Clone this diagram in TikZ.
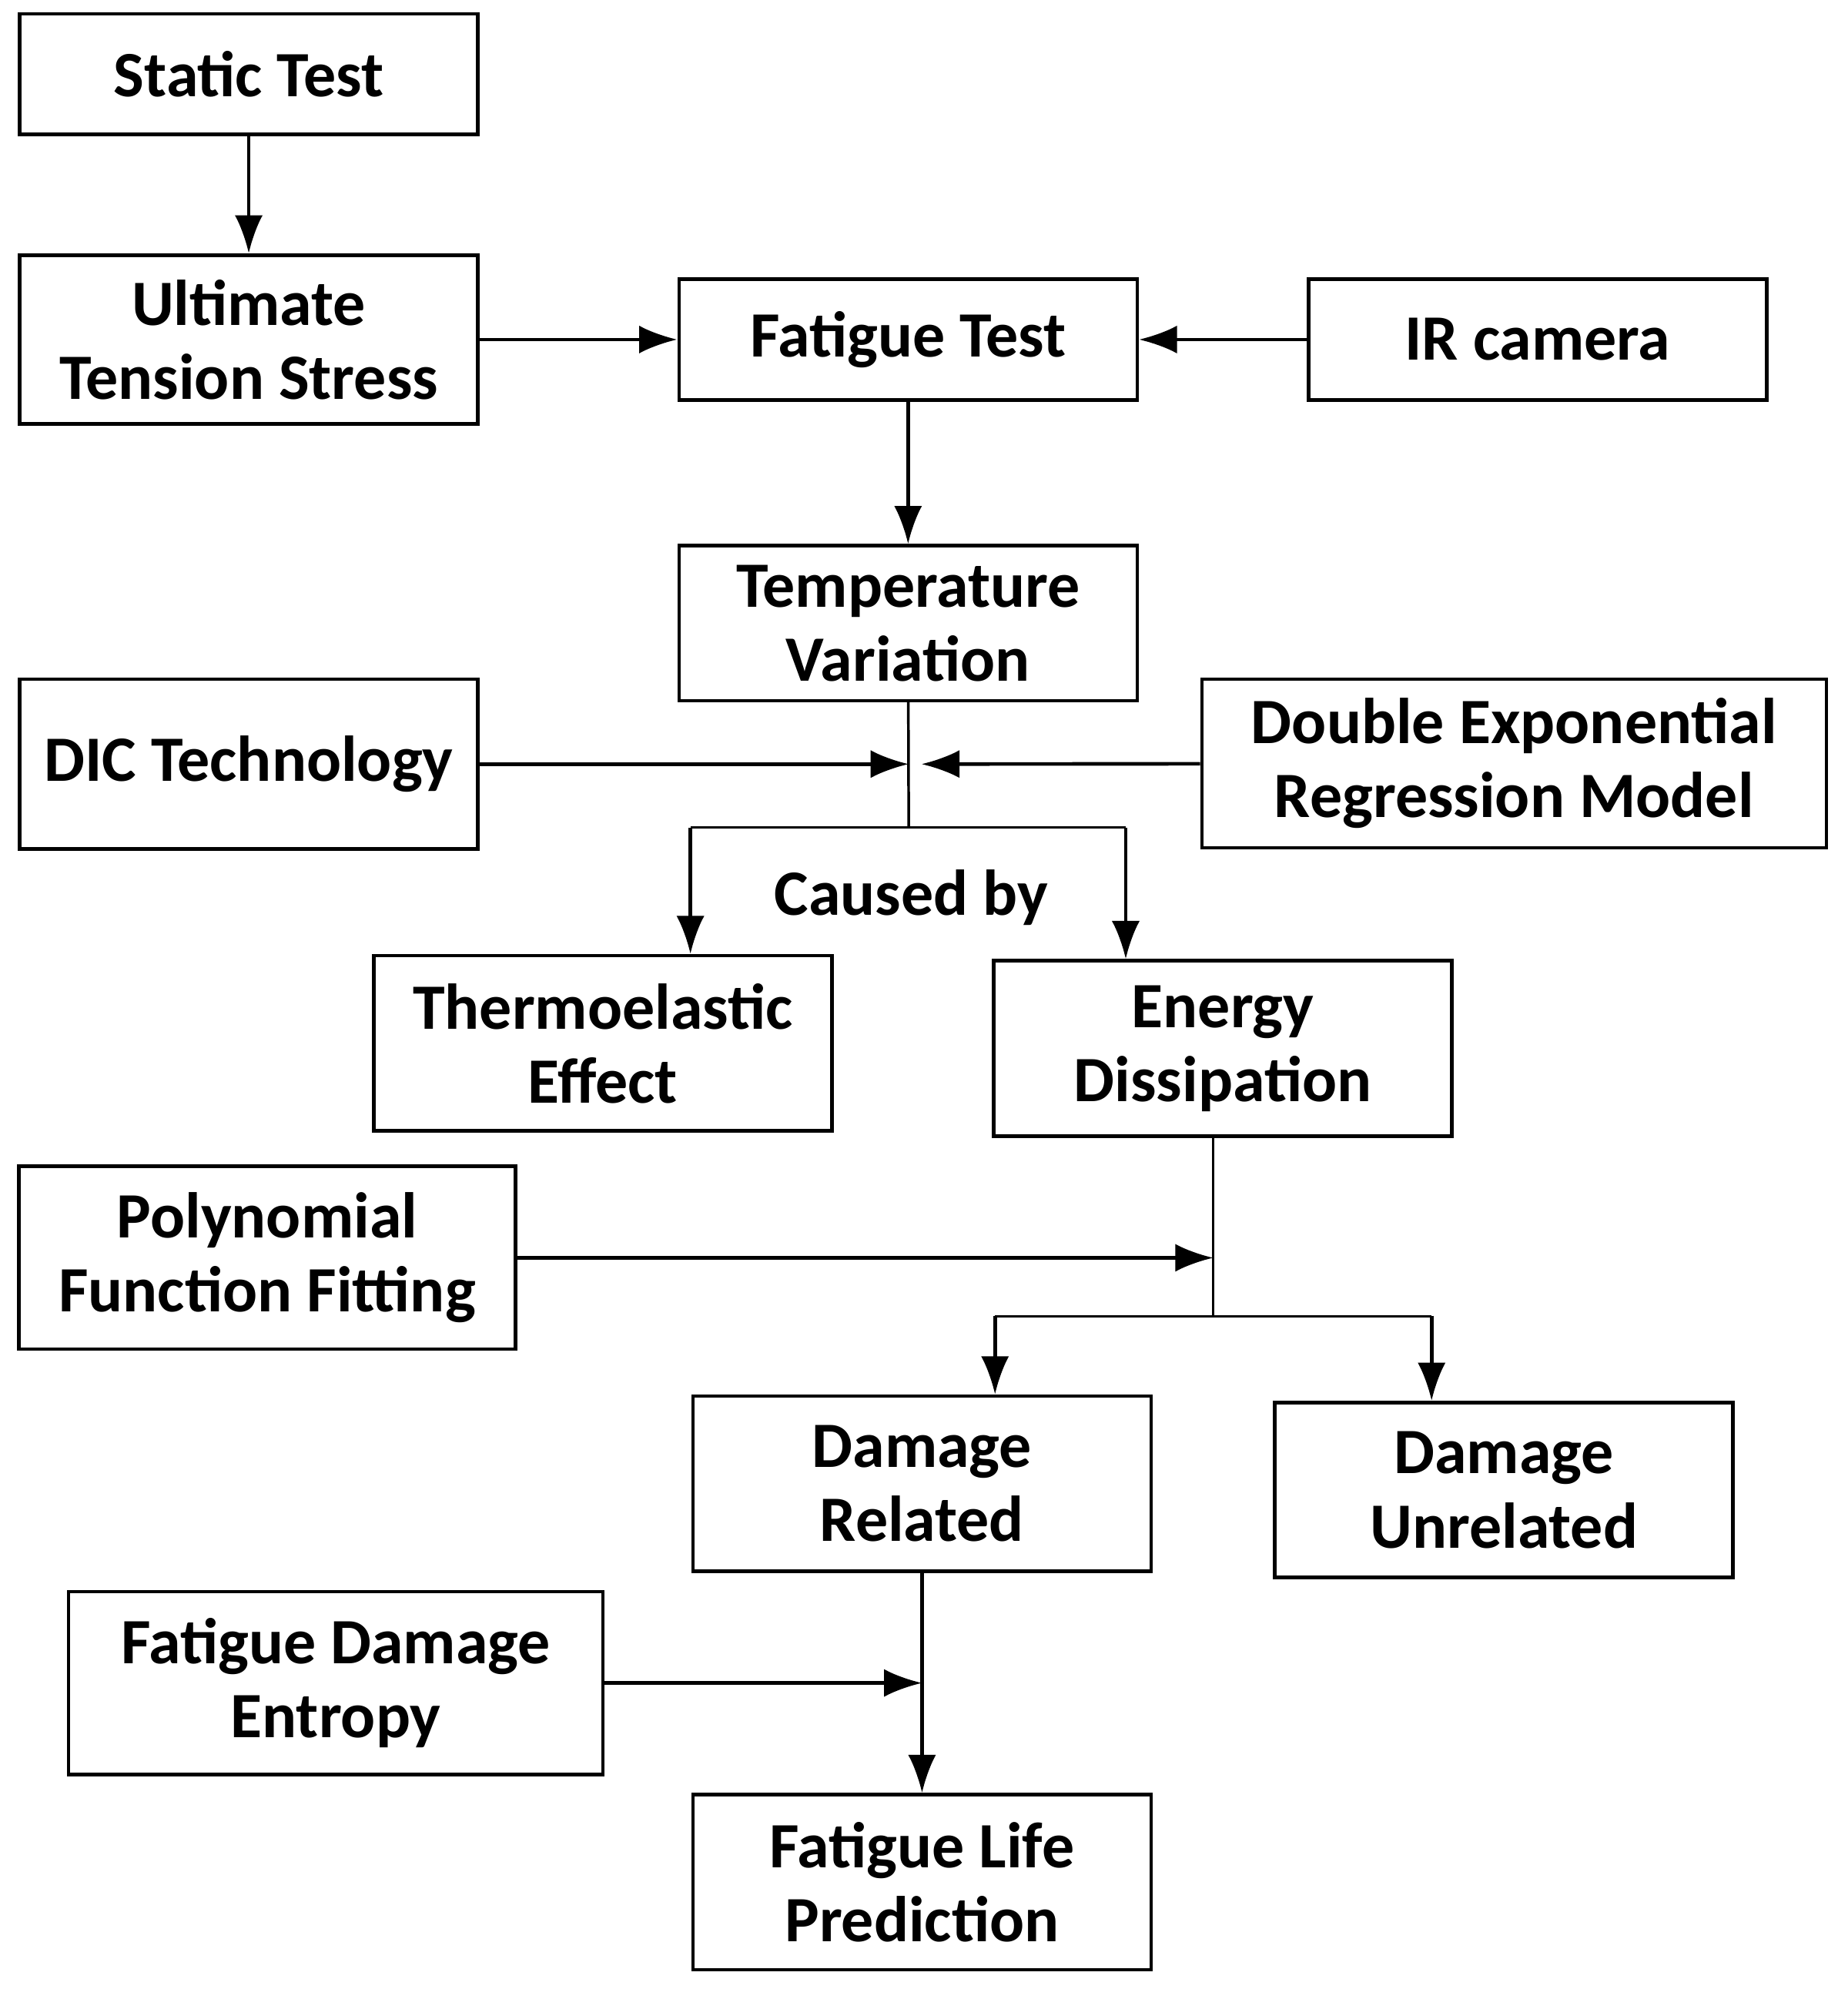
\documentclass[tikz,border=0pt]{standalone}
\usepackage{fontspec}
\setmainfont{Carlito}
\usetikzlibrary{arrows.meta, positioning}
\tikzset{
  box/.style={rectangle, draw, thick, align=center, minimum width=3.61cm,
    minimum height=1.37cm, inner sep=1mm,
    font=\fontsize{14.5}{16.6}\selectfont\bfseries},
  line/.style={-{Latex[length=3mm,width=2.2mm]}, thick},
  thin line/.style={semithick}
}
\begin{document}
\begin{tikzpicture}
\useasboundingbox (0,0) rectangle (14.56,-15.75);

% ---- boxes ----
\node[box, minimum height=0.95cm] (static) at (1.96,-0.585) {Static Test};
\node[box, minimum height=1.33cm] (uts) at (1.96,-2.675) {Ultimate\\Tension Stress};
\node[box, minimum height=0.95cm] (fatigue) at (7.155,-2.675) {Fatigue Test};
\node[box, minimum height=0.95cm] (ir) at (12.115,-2.675) {IR camera};
\node[box, minimum height=1.22cm] (temp) at (7.155,-4.91) {Temperature\\Variation};
\node[box, minimum height=1.34cm] (dic) at (1.96,-6.02) {DIC Technology};
\node[box, minimum width=4.92cm, minimum height=1.33cm] (dexp) at (11.93,-6.015) {Double Exponential\\Regression Model};
\node[box, minimum height=1.38cm] (thermo) at (4.75,-8.22) {Thermoelastic\\Effect};
\node[box, minimum height=1.38cm] (energy) at (9.635,-8.26) {Energy\\Dissipation};
\node[box, minimum width=3.91cm, minimum height=1.44cm] (poly) at (2.105,-9.91) {Polynomial\\Function Fitting};
\node[box, minimum height=1.38cm] (drel) at (7.265,-11.69) {Damage\\Related};
\node[box, minimum height=1.38cm] (dunrel) at (11.85,-11.74) {Damage\\Unrelated};
\node[box, minimum width=4.21cm, minimum height=1.44cm] (entropy) at (2.645,-13.26) {Fatigue Damage\\Entropy};
\node[box, minimum height=1.38cm] (life) at (7.265,-14.83) {Fatigue Life\\Prediction};
\node[font=\fontsize{14.5}{16.6}\selectfont\bfseries] (cause) at (7.18,-7.07) {Caused by};

% ---- junctions ----
\coordinate (j1) at (7.16,-6.02);
\coordinate (s1) at (7.16,-6.52);
\coordinate (s1l) at (5.44,-6.52);
\coordinate (s1r) at (8.87,-6.52);
\coordinate (j2) at (9.56,-9.91);
\coordinate (s2) at (9.56,-10.37);
\coordinate (s2l) at (7.84,-10.37);
\coordinate (s2r) at (11.28,-10.37);
\coordinate (j3) at (7.265,-13.26);

% ---- connectors ----
\draw[line] (static) -- (uts);
\draw[line] (uts) -- (fatigue);
\draw[line] (ir) -- (fatigue);
\draw[line] (fatigue) -- (temp);
\draw[thin line] (temp) -- (s1);
\draw[line] (dic) -- (j1);
\draw[line] (dexp) -- ([xshift=1mm]j1);
\draw[thin line] (s1l) -- (s1r);
\draw[line] (s1l) -- (s1l |- thermo.north);
\draw[line] (s1r) -- (s1r |- energy.north);
\draw[thin line] (energy.south -| j2) -- (s2);
\draw[line] (poly) -- (j2);
\draw[thin line] (s2l) -- (s2r);
\draw[line] (s2l) -- (s2l |- drel.north);
\draw[line] (s2r) -- (s2r |- dunrel.north);
\draw[line] (drel) -- (life);
\draw[line] (entropy) -- (j3);
\end{tikzpicture}
\end{document}
